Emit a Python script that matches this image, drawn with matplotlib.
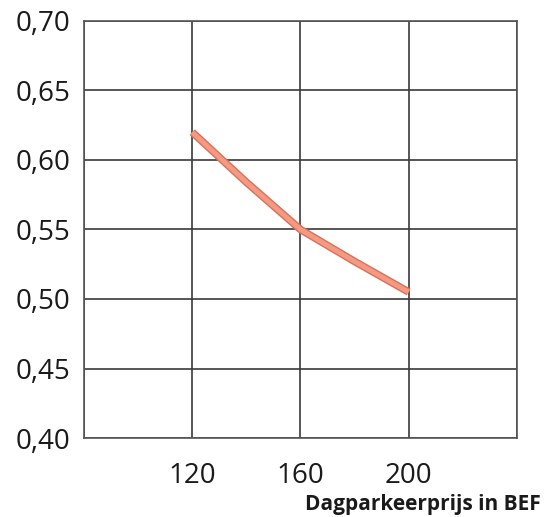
import matplotlib.pyplot as plt
from matplotlib.ticker import FuncFormatter

# data
prijs = [120, 140, 160, 180, 200]
waarde = [0.62, 0.584, 0.55, 0.527, 0.505]
x_ticks = [120, 160, 200]
y_ticks = [0.40, 0.45, 0.50, 0.55, 0.60, 0.65, 0.70]

plt.rcParams['font.family'] = ['Open Sans', 'DejaVu Sans']

fig = plt.figure(figsize=(5.47, 5.17), dpi=100)
ax = fig.add_axes([0.1536, 0.1528, 0.7914, 0.8066])

# grid as in the print
for xv in [80, 120, 160, 200, 240]:
    ax.axvline(xv, color='#3a3a3a', lw=1.2, zorder=1)
for yv in y_ticks:
    ax.axhline(yv, color='#3a3a3a', lw=1.2, zorder=1)

ax.plot(prijs, waarde, color='#d9705a', lw=5.5, solid_capstyle='butt', zorder=3)
ax.plot(prijs, waarde, color='#f59a82', lw=3.5, solid_capstyle='butt', zorder=4)

ax.set_xlim(80, 240)
ax.set_ylim(0.40, 0.70)
ax.set_xticks(x_ticks)
ax.set_yticks(y_ticks)
ax.yaxis.set_major_formatter(FuncFormatter(lambda v, p: f"{v:.2f}".replace('.', ',')))
ax.tick_params(axis='both', length=0, labelsize=20, colors='#1a1a1a')
ax.tick_params(axis='y', pad=10)
ax.tick_params(axis='x', pad=17)
for s in ax.spines.values():
    s.set_color('#555555')
    s.set_linewidth(1.2)

fig.text(0.988, 0.004, "Dagparkeerprijs in BEF", ha='right', va='bottom',
         fontsize=15, fontweight='bold', color='#1a1a1a')

fig.savefig('out.png', dpi=100)
